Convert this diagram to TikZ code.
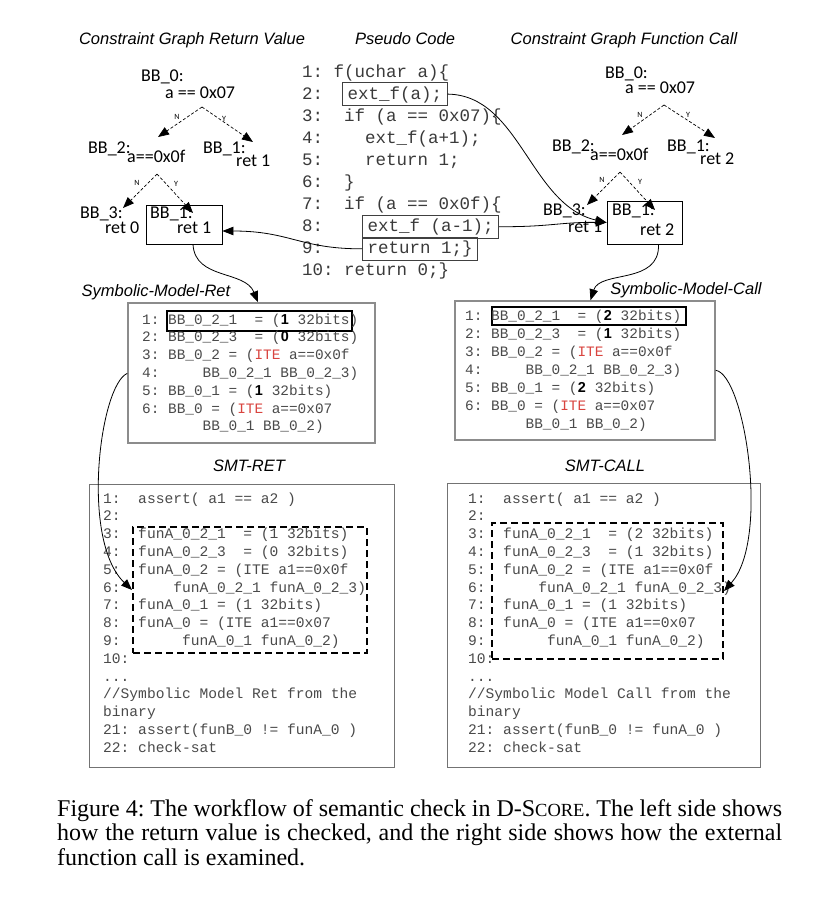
\documentclass[tikz,border=0pt]{standalone}
\usepackage{fontspec}
\setmainfont{Liberation Serif}
\setsansfont{Liberation Sans}
\newfontfamily\codefont{Liberation Mono}
\newfontfamily\cgfont{Carlito}
\usetikzlibrary{arrows.meta}

\definecolor{codegray}{HTML}{4A4A4A}
\definecolor{pcgray}{HTML}{3A3A3A}
\definecolor{itered}{HTML}{D9443F}
\definecolor{boxgray}{HTML}{8C8C8C}

\newcommand{\bd}[1]{\makebox[0.6em]{\textcolor{black}{\sffamily\bfseries #1}}}
\newcommand{\ite}{\textcolor{itered}{ITE}}

\begin{document}
\begin{tikzpicture}[
    x=1pt, y=-1pt,
    >={Triangle[length=11pt, width=8.5pt]},
    title/.style={font=\sffamily\itshape\fontsize{16.5}{18}\selectfont,
                  inner sep=0pt, text height=12pt, text depth=0pt},
    cglabel/.style={font=\cgfont\fontsize{18}{20}\selectfont, anchor=west,
                    inner sep=0pt, text height=11pt, text depth=0pt},
    yn/.style={font=\cgfont\fontsize{8}{9}\selectfont, inner sep=0pt},
    cgbox/.style={draw, line width=0.9pt, inner sep=0pt},
    branch/.style={->, dashed, dash pattern=on 3pt off 2pt, line width=0.7pt},
    pcline/.style={font=\codefont\fontsize{17.5}{20}\selectfont, text=pcgray,
                   anchor=west, inner sep=0pt, text height=12pt, text depth=2pt},
    pcbox/.style={pcline, draw=black!75, line width=1pt, inner xsep=5pt,
                  minimum height=23pt},
    modelline/.style={font=\codefont\fontsize{14.4}{17}\selectfont, text=codegray,
                      anchor=west, inner sep=0pt, text height=10pt, text depth=2pt},
    smtline/.style={modelline, font=\codefont\fontsize{14.6}{17}\selectfont},
    modelbox/.style={draw=boxgray, line width=1.5pt, inner sep=0pt},
    smtbox/.style={draw=black!55, line width=0.9pt, inner sep=0pt},
    hlbox/.style={draw, line width=1.2pt, inner sep=0pt},
    dashbox/.style={draw, dashed, dash pattern=on 7pt off 4pt, line width=2pt,
                    inner sep=0pt},
    flow/.style={->, line width=0.8pt},
    caption/.style={font=\frenchspacing\fontsize{24}{26}\selectfont, anchor=west,
                    inner sep=0pt, text height=15pt, text depth=0pt},
]
\path[use as bounding box, fill=white] (0,0) rectangle (838,908);

% Titles
\node[title] (ttlret)   at (192,38)  {Constraint Graph Return Value};
\node[title] (ttlpc)    at (405,38)  {Pseudo Code};
\node[title] (ttlcall)  at (624,38)  {Constraint Graph Function Call};
\node[title] (ttlmret)  at (156,290) {Symbolic-Model-Ret};
\node[title] (ttlmcall) at (686,288) {Symbolic-Model-Call};
\node[title] (ttlsret)  at (249,465) {SMT-RET};
\node[title] (ttlscall) at (605,465) {SMT-CALL};

% Constraint graph, return value
\node[cglabel] (lbb0)   at (141,76)  {BB\_0:};
\node[cglabel] (lbb0c)  at (165,93)  {a == 0x07};
\node[cglabel] (lbb2)   at (88,148)  {BB\_2:};
\node[cglabel] (lbb2c)  at (127,157) {a==0x0f};
\node[cglabel] (lbb1)   at (203,148) {BB\_1:};
\node[cglabel] (lbb1r)  at (236,161) {ret 1};
\node[cglabel] (lbb3)   at (80,213)  {BB\_3:};
\node[cglabel] (lbb3r)  at (105,228) {ret 0};
\node[cgbox, minimum width=76pt, minimum height=39pt] (retbox) at (184,224.5) {};
\node[cglabel] (lbox1)  at (150,213) {BB\_1:};
\node[cglabel] (lbox1r) at (177,228) {ret 1};
\coordinate (la0) at (202,107);
\coordinate (la0n) at (158,137);
\coordinate (la0y) at (253,142);
\coordinate (la2) at (157,174);
\coordinate (la2n) at (123,208);
\coordinate (la2y) at (193,213);
\node[yn] (lyn1) at (177,117) {N};
\node[yn] (lyn2) at (224,119) {Y};
\node[yn] (lyn3) at (137,183) {N};
\node[yn] (lyn4) at (176,184) {Y};

% Constraint graph, function call
\node[cglabel] (rbb0)   at (605,73)  {BB\_0:};
\node[cglabel] (rbb0c)  at (625,88)  {a == 0x07};
\node[cglabel] (rbb2)   at (552,146) {BB\_2:};
\node[cglabel] (rbb2c)  at (590,155) {a==0x0f};
\node[cglabel] (rbb1)   at (667,146) {BB\_1:};
\node[cglabel] (rbb1r)  at (700,159) {ret 2};
\node[cglabel] (rbb3)   at (543,210) {BB\_3:};
\node[cglabel] (rbb3r)  at (568,227) {ret 1};
\node[cgbox, minimum width=75pt, minimum height=43pt] (callbox) at (644.5,222.5) {};
\node[cglabel] (rbox1)  at (612,210) {BB\_1:};
\node[cglabel] (rbox1r) at (640,230) {ret 2};
\coordinate (ra0) at (664,105);
\coordinate (ra0n) at (622,135);
\coordinate (ra0y) at (715,138);
\coordinate (ra2) at (620,172);
\coordinate (ra2n) at (587,205);
\coordinate (ra2y) at (655,210);
\node[yn] (ryn1) at (640,115) {N};
\node[yn] (ryn2) at (688,115) {Y};
\node[yn] (ryn3) at (602,180) {N};
\node[yn] (ryn4) at (640,182) {Y};

\draw[branch] (la0) -- (la0n);
\draw[branch] (la0) -- (la0y);
\draw[branch] (la2) -- (la2n);
\draw[branch] (la2) -- (la2y);
\draw[branch] (ra0) -- (ra0n);
\draw[branch] (ra0) -- (ra0y);
\draw[branch] (ra2) -- (ra2n);
\draw[branch] (ra2) -- (ra2y);

% Pseudo code
\foreach \txt [count=\k] in {{1:~f(uchar~a)\{}, {2:}, {3:~~if~(a~==~0x07)\{},
    {4:~~~~ext\_f(a+1);}, {5:~~~~return~1;}, {6:~~\}}, {7:~~if~(a~==~0x0f)\{},
    {8:}, {9:}, {10:~return~0;\}}}
  \node[pcline] (pc\k) at (302, {72+(\k-1)*22.1}) {\txt};
\node[pcbox] (ext2) at (342,94.1)  {ext\_f(a);};
\node[pcbox] (ext8) at (362,226.7) {ext\_f~(a-1);};
\node[pcbox] (ret9) at (362,248.8) {return~1;\}};

% Symbolic models
\node[modelbox, minimum width=247pt, minimum height=140pt] (modelret) at (251.5,373) {};
\node[modelbox, minimum width=260pt, minimum height=139pt] (modelcall) at (585,370.5) {};
\node[hlbox, minimum width=185pt, minimum height=20pt] (hlret) at (259.5,321) {};
\node[hlbox, minimum width=194pt, minimum height=18pt] (hlcall) at (589,316) {};
\foreach \txt [count=\k] in {{1:~BB\_0\_2\_1~~=~(\bd{1}~32bits)},
    {2:~BB\_0\_2\_3~~=~(\bd{0}~32bits)}, {3:~BB\_0\_2~=~(\ite~a==0x0f},
    {4:~~~~~BB\_0\_2\_1~BB\_0\_2\_3)}, {5:~BB\_0\_1~=~(\bd{1}~32bits)},
    {6:~BB\_0~=~(\ite~a==0x07}, {~~~~~~~BB\_0\_1~BB\_0\_2)}}
  \node[modelline] (mret\k) at (142, {320+(\k-1)*17.8}) {\txt};
\foreach \txt [count=\k] in {{1:~BB\_0\_2\_1~~=~(\bd{2}~32bits)},
    {2:~BB\_0\_2\_3~~=~(\bd{1}~32bits)}, {3:~BB\_0\_2~=~(\ite~a==0x0f},
    {4:~~~~~BB\_0\_2\_1~BB\_0\_2\_3)}, {5:~BB\_0\_1~=~(\bd{2}~32bits)},
    {6:~BB\_0~=~(\ite~a==0x07}, {~~~~~~~BB\_0\_1~BB\_0\_2)}}
  \node[modelline] (mcall\k) at (465, {316+(\k-1)*18.1}) {\txt};

% SMT queries
\node[smtbox, minimum width=305pt, minimum height=283pt] (smtret) at (241.5,625.5) {};
\node[smtbox, minimum width=313pt, minimum height=284pt] (smtcall) at (603.5,625) {};
\node[dashbox, minimum width=234pt, minimum height=126pt] (dashret) at (250,590) {};
\node[dashbox, minimum width=231pt, minimum height=136pt] (dashcall) at (607.5,591) {};
\foreach \txt [count=\k from 0] in {{1:~~assert(~a1~==~a2~)}, {2:},
    {3:~~funA\_0\_2\_1~~=~(1~32bits)}, {4:~~funA\_0\_2\_3~~=~(0~32bits)},
    {5:~~funA\_0\_2~=~(ITE~a1==0x0f}, {6:~~~~~~funA\_0\_2\_1~funA\_0\_2\_3)},
    {7:~~funA\_0\_1~=~(1~32bits)}, {8:~~funA\_0~=~(ITE~a1==0x07},
    {9:~~~~~~~funA\_0\_1~funA\_0\_2)}, {10:}, {{.}{.}{.}},
    {//Symbolic~Model~Ret~from~the}, {binary},
    {21:~assert(funB\_0~!=~funA\_0~)}, {22:~check-sat}}
  \node[smtline] (sret\k) at (103, {499+\k*17.8}) {\txt};
\foreach \txt [count=\k from 0] in {{1:~~assert(~a1~==~a2~)}, {2:},
    {3:~~funA\_0\_2\_1~~=~(2~32bits)}, {4:~~funA\_0\_2\_3~~=~(1~32bits)},
    {5:~~funA\_0\_2~=~(ITE~a1==0x0f}, {6:~~~~~~funA\_0\_2\_1~funA\_0\_2\_3)},
    {7:~~funA\_0\_1~=~(1~32bits)}, {8:~~funA\_0~=~(ITE~a1==0x07},
    {9:~~~~~~~funA\_0\_1~funA\_0\_2)}, {10:}, {{.}{.}{.}},
    {//Symbolic~Model~Call~from~the}, {binary},
    {21:~assert(funB\_0~!=~funA\_0~)}, {22:~check-sat}}
  \node[smtline] (scall\k) at (468, {499+\k*17.8}) {\txt};

% Edges
\draw[flow] (ret9.west) .. controls (300,249) and (290,231) .. ([yshift=-6.5pt]retbox.east);
\draw[flow] (ext2.east) .. controls (520,95) and (530,205) .. (callbox.west);
\draw[flow] (ext8.east) .. controls (550,227) and (560,222) .. (callbox.west);
\draw[flow] ([xshift=9pt]retbox.south) .. controls (195,280) and (245,270) .. ([xshift=6.5pt]modelret.north);
\draw[flow] ([xshift=14pt]callbox.south) .. controls (660,285) and (600,270) .. ([xshift=5.5pt]modelcall.north);
\draw[flow] (modelret.west |- mret4) .. controls (100,385) and (80,540) .. (dashret.west);
\draw[flow] (modelcall.east |- mcall4) .. controls (745,375) and (770,540) .. (dashcall.east);

% Caption
\node[caption] (cap1) at (57,808.5) {\makebox[725pt][s]{Figure 4: The workflow of semantic check in D-S{\fontsize{18.5}{20}\selectfont CORE}. The left side shows}};
\node[caption] (cap2) at (57,832.5) {\makebox[725pt][s]{how the return value is checked, and the right side shows how the external}};
\node[caption] (cap3) at (57,857.5) {function call is examined.};

\end{tikzpicture}
\end{document}
